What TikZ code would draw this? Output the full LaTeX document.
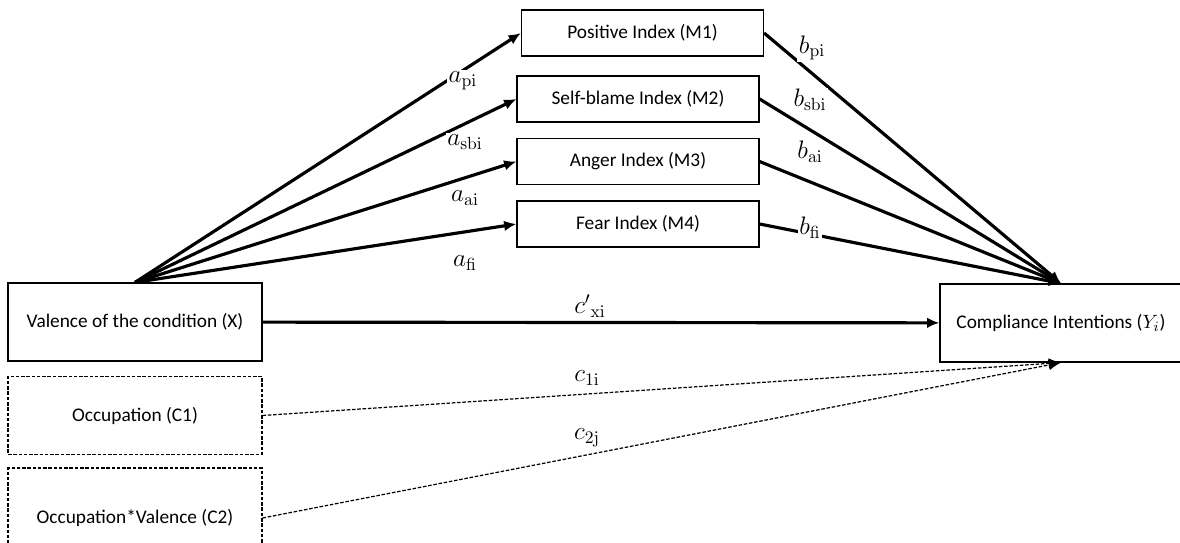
\documentclass[tikz,border=0pt]{standalone}
\usepackage{amsmath}
\usepackage[no-math]{fontspec}
\setmainfont{Carlito}
\usetikzlibrary{positioning, arrows.meta}

\begin{document}
\begin{tikzpicture}[x=0.02cm, y=-0.02cm,
  box/.style={draw, line width=0.7pt, inner sep=0pt, font=\fontsize{11}{13}\selectfont},
  outer/.style={box, minimum width=5.08cm, minimum height=1.56cm},
  ctrl/.style={outer, dash pattern=on 2pt off 1pt},
  medbox/.style={box, minimum width=4.84cm, minimum height=0.92cm},
  effect/.style={line width=1.8pt, -{Latex[length=7pt, width=6pt]}},
  ctrleffect/.style={line width=0.7pt, dash pattern=on 2pt off 1pt, -{Latex[length=7pt, width=6pt]}},
  coef/.style={fill=white, inner sep=1pt, font=\fontsize{14}{16}\selectfont}]
\useasboundingbox (0,0) rectangle (1180,543);
\clip (0,0) rectangle (1180,543);

% predictor and covariates
\node[outer] (X) at (135,322) {Valence of the condition (X)};
\node[ctrl] (C1) at (135,415.5) {Occupation (C1)};
\node[ctrl, minimum height=2cm] (C2) at (135,518) {Occupation*Valence (C2)};

% mediators
\node[medbox] (M1) at (642.5,33) {Positive Index (M1)};
\node[medbox] (M2) at (638,99) {Self-blame Index (M2)};
\node[medbox] (M3) at (638,161.5) {Anger Index (M3)};
\node[medbox] (M4) at (638,224) {Fear Index (M4)};

% outcome
\node[outer, minimum width=4.84cm] (Y) at (1061,323) {Compliance Intentions ($Y_i$)};

\foreach \m in {M1,M2,M3,M4} {
  \draw[effect] (X.north) -- (\m.west);
  \draw[effect] (\m.east) -- (Y.north);
}
\draw[effect] (X) -- (Y);
\draw[ctrleffect] (C1.east) -- (Y.south);
\draw[ctrleffect] (C2.east) -- (Y.south);

% path coefficients
\node[coef] (api) at (463,81) {$a_{\mathrm{pi}}$};
\node[coef] (asbi) at (465,142) {$a_{\mathrm{sbi}}$};
\node[coef] (aai) at (465,198) {$a_{\mathrm{ai}}$};
\node[coef] (afi) at (465,263) {$a_{\mathrm{fi}}$};
\node[coef] (bpi) at (812,48) {$b_{\mathrm{pi}}$};
\node[coef] (bsbi) at (810,100) {$b_{\mathrm{sbi}}$};
\node[coef] (bai) at (810,152) {$b_{\mathrm{ai}}$};
\node[coef] (bfi) at (810,228) {$b_{\mathrm{fi}}$};
\node[coef] (cxi) at (590,306) {${c'}_{\mathrm{xi}}$};
\node[coef, fill=none] (c1i) at (587,378) {$c_{\mathrm{1i}}$};
\node[coef, fill=none] (c2j) at (587,438) {$c_{\mathrm{2j}}$};
\end{tikzpicture}
\end{document}
